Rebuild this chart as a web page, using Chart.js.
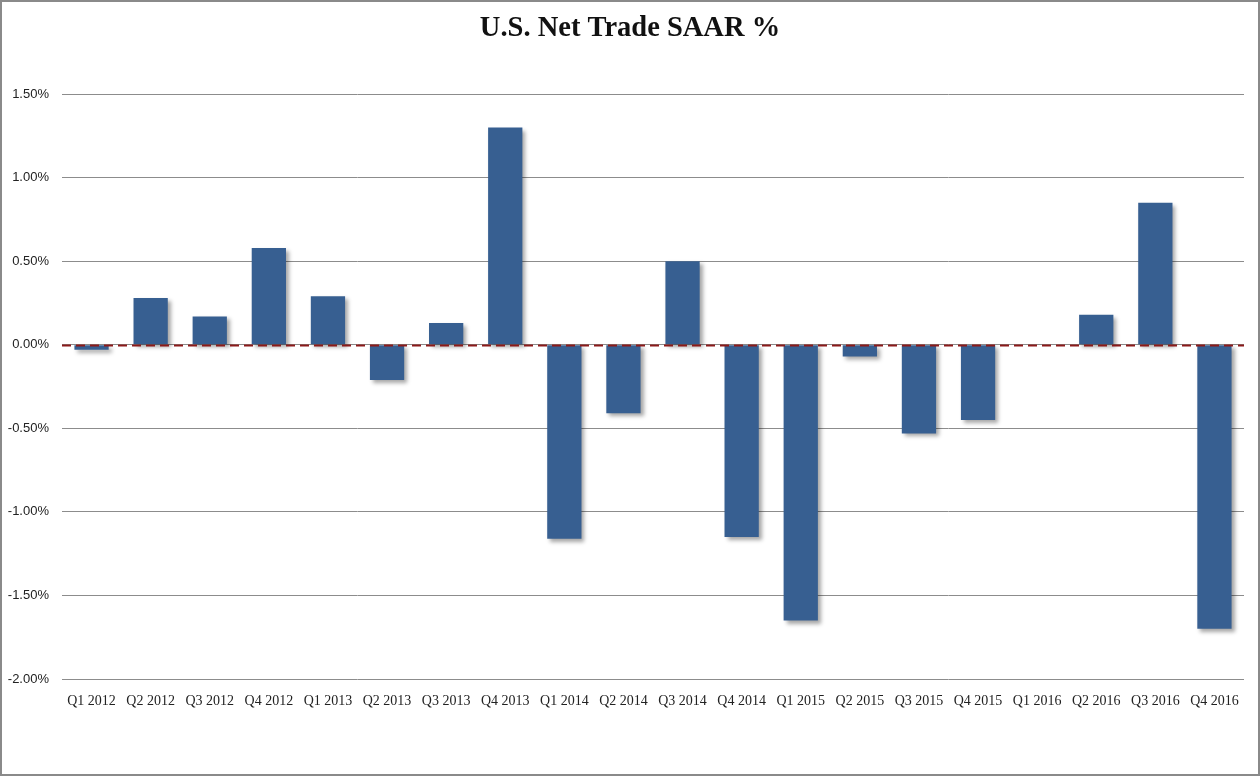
<!DOCTYPE html>
<html>
<head>
<meta charset="utf-8">
<title>U.S. Net Trade SAAR %</title>
<script src="https://cdn.jsdelivr.net/npm/chart.js@4/dist/chart.umd.min.js"></script>
<style>
    html, body { margin: 0; padding: 0; background: #fff; }
    #wrap { width: 1260px; height: 776px; position: relative; }
</style>
</head>
<body>
<div id="wrap"><canvas id="trade-chart" width="1260" height="776"></canvas></div>
<script>
// quarters shown on the x axis
const quarters = [
    'Q1 2012', 'Q2 2012', 'Q3 2012', 'Q4 2012',
    'Q1 2013', 'Q2 2013', 'Q3 2013', 'Q4 2013',
    'Q1 2014', 'Q2 2014', 'Q3 2014', 'Q4 2014',
    'Q1 2015', 'Q2 2015', 'Q3 2015', 'Q4 2015',
    'Q1 2016', 'Q2 2016', 'Q3 2016', 'Q4 2016'
];

// net trade contribution, percent SAAR
const net_trade = [
    -0.03, 0.28, 0.17, 0.58,
    0.29, -0.21, 0.13, 1.30,
    -1.16, -0.41, 0.50, -1.15,
    -1.65, -0.07, -0.53, -0.45,
    0.00, 0.18, 0.85, -1.70
];

const y_ticks = [-2.0, -1.5, -1.0, -0.5, 0.0, 0.5, 1.0, 1.5];

/**
 * Soft drop shadow behind the bars, like the spreadsheet original
 */
const bar_shadow = {
    id: 'bar_shadow',
    beforeDatasetsDraw(chart) {
        const ctx = chart.ctx;
        ctx.save();
        ctx.shadowColor = 'rgba(0, 0, 0, 0.35)';
        ctx.shadowBlur = 4;
        ctx.shadowOffsetX = 3;
        ctx.shadowOffsetY = 3;
    },
    afterDatasetsDraw(chart) {
        chart.ctx.restore();
    }
};

/**
 * Dashed zero line and outer frame
 */
const zero_line = {
    id: 'zero_line',
    afterDatasetsDraw(chart) {
        const ctx = chart.ctx;
        const area = chart.chartArea;
        const y = Math.round(chart.scales.y.getPixelForValue(0)) + 0.5;

        ctx.save();
        ctx.strokeStyle = '#8b1a1a';
        ctx.lineWidth = 2;
        ctx.setLineDash([9, 5]);
        ctx.beginPath();
        ctx.moveTo(area.left, y);
        ctx.lineTo(area.right, y);
        ctx.stroke();
        ctx.restore();
    },
    afterDraw(chart) {
        const ctx = chart.ctx;
        ctx.save();
        ctx.strokeStyle = '#8a8a8a';
        ctx.lineWidth = 2;
        ctx.strokeRect(1, 1, chart.width - 2, chart.height - 2);
        ctx.restore();
    }
};

new Chart(document.getElementById('trade-chart').getContext('2d'), {
    type: 'bar',
    data: {
        labels: quarters,
        datasets: [{
            data: net_trade,
            backgroundColor: '#375f91',
            categoryPercentage: 1.0,
            barPercentage: 0.58
        }]
    },
    options: {
        responsive: false,
        animation: false,
        devicePixelRatio: 1,
        layout: { padding: 0 },
        plugins: {
            legend: { display: false },
            tooltip: { enabled: false },
            title: {
                display: true,
                text: 'U.S. Net Trade SAAR %',
                color: '#111',
                font: { family: '"Liberation Serif", "Times New Roman", serif', size: 28.5, weight: 'bold' },
                padding: { top: 12, bottom: 48 }
            }
        },
        scales: {
            x: {
                grid: { display: false },
                border: { display: false },
                ticks: {
                    color: '#222',
                    padding: 6,
                    maxRotation: 0,
                    autoSkip: false,
                    font: { family: '"Liberation Serif", "Times New Roman", serif', size: 14 }
                },
                afterFit(scale) { scale.height = 97; }
            },
            y: {
                min: -2.0,
                max: 1.5,
                afterBuildTicks(scale) {
                    scale.ticks = y_ticks.map(v => ({ value: v }));
                },
                grid: { color: '#8c8c8c', lineWidth: 1, drawTicks: false },
                border: { display: false },
                ticks: {
                    color: '#222',
                    padding: 13,
                    font: { family: '"Liberation Sans", Arial, sans-serif', size: 13 },
                    callback: v => v.toFixed(2) + '%'
                },
                afterFit(scale) { scale.width = 62; }
            },
            // empty right axis, only keeps the right margin so the title stays centred
            y_right: {
                position: 'right',
                min: -2.0,
                max: 1.5,
                grid: { display: false },
                border: { display: false },
                ticks: { display: false },
                afterFit(scale) { scale.width = 16; }
            }
        }
    },
    plugins: [bar_shadow, zero_line]
});
</script>
</body>
</html>
